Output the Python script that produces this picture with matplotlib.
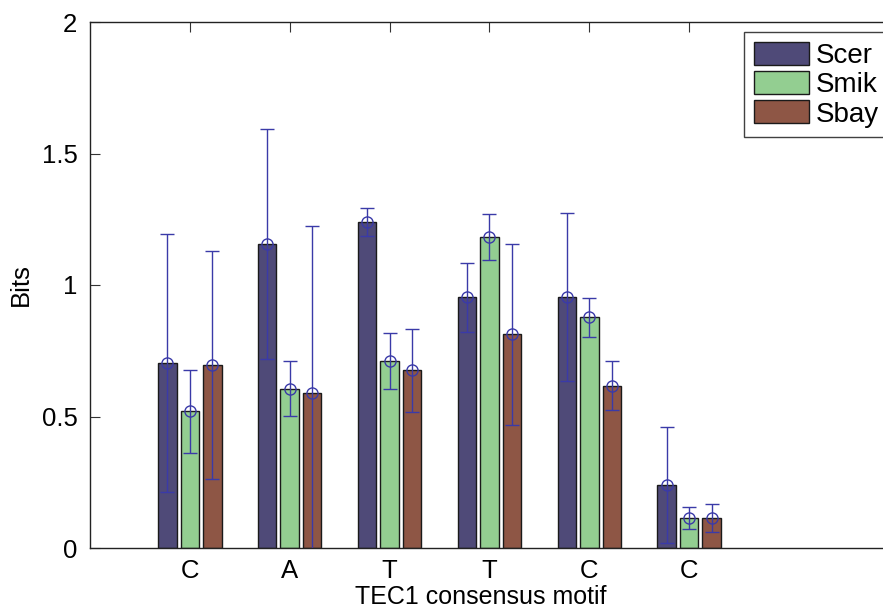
import matplotlib
matplotlib.use("Agg")
import matplotlib.pyplot as plt
import numpy as np

plt.rcParams['font.family'] = ['Liberation Sans', 'DejaVu Sans']

categories = ['C', 'A', 'T', 'T', 'C', 'C']
series = ['Scer', 'Smik', 'Sbay']
scer = [0.703, 1.155, 1.238, 0.953, 0.956, 0.240]
smik = [0.520, 0.606, 0.712, 1.181, 0.877, 0.115]
sbay = [0.697, 0.590, 0.676, 0.812, 0.617, 0.115]
scer_hi = [1.193, 1.595, 1.292, 1.085, 1.275, 0.461]
scer_lo = [0.212, 0.720, 1.185, 0.821, 0.636, 0.018]
smik_hi = [0.678, 0.710, 0.816, 1.269, 0.949, 0.157]
smik_lo = [0.361, 0.502, 0.606, 1.095, 0.802, 0.071]
sbay_hi = [1.130, 1.223, 0.833, 1.157, 0.710, 0.167]
sbay_lo = [0.264, -0.05, 0.516, 0.468, 0.525, 0.060]

colors = ['#4f4a78', '#93ce91', '#8e5645']
err_color = '#3a3aa8'

fig = plt.figure(figsize=(8.83, 6.11), dpi=100)
ax_w = 1.0 - 90/883 + 0.01
ax = fig.add_axes([90/883, 63/611, ax_w, 526/611])
ax_wpx = ax_w * 883

x = np.arange(1, len(categories) + 1)
offsets = [-0.225, 0.0, 0.225]
width = 0.185
vals = [scer, smik, sbay]
his = [scer_hi, smik_hi, sbay_hi]
los = [scer_lo, smik_lo, sbay_lo]

for i in range(3):
    xs = x + offsets[i]
    v = np.array(vals[i])
    ax.bar(xs, v, width=width, color=colors[i], edgecolor='#1a1a1a',
           linewidth=1.0, label=series[i], zorder=2)
    lo = v - np.array(los[i])
    hi = np.array(his[i]) - v
    ax.errorbar(xs, v, yerr=[lo, hi], fmt='o', mfc='none', mec=err_color,
                ecolor=err_color, color=err_color, markersize=8, capsize=5,
                elinewidth=1.0, capthick=1.0, mew=1.0, zorder=3)

ax.set_xlim(0, 8.03)
ax.set_ylim(0, 2)
ax.set_xticks(x)
ax.set_xticklabels(categories)
ax.set_yticks([0, 0.5, 1, 1.5, 2])
ax.set_yticklabels(['0', '0.5', '1', '1.5', '2'])
ax.tick_params(axis='both', direction='in', labelsize=18.5, length=7,
               top=True, right=False, color='#333333')
ax.tick_params(axis='x', pad=8)
ax.tick_params(axis='y', pad=9)
ax.spines['right'].set_visible(False)
for s in ['left', 'top', 'bottom']:
    ax.spines[s].set_linewidth(1.0)
    ax.spines[s].set_color('#222222')

ax.set_xlabel('TEC1 consensus motif', fontsize=18)
ax.xaxis.set_label_coords((481 - 90) / ax_wpx, -0.094)
ax.xaxis.label.set_va('center')
ax.set_ylabel('Bits', fontsize=18.5)
ax.yaxis.set_label_coords(-(90 - 33) / ax_wpx, 0.5)

leg = fig.legend(loc='upper left', bbox_to_anchor=(744/883, 1 - 32/611), fontsize=20,
                 handlelength=1.98, handleheight=0.9, handletextpad=0.25,
                 labelspacing=0.08, borderpad=0.35, borderaxespad=0.0,
                 fancybox=False, frameon=True, edgecolor='#111111')
leg.get_frame().set_linewidth(1.0)

fig.savefig('out.png', dpi=100)
